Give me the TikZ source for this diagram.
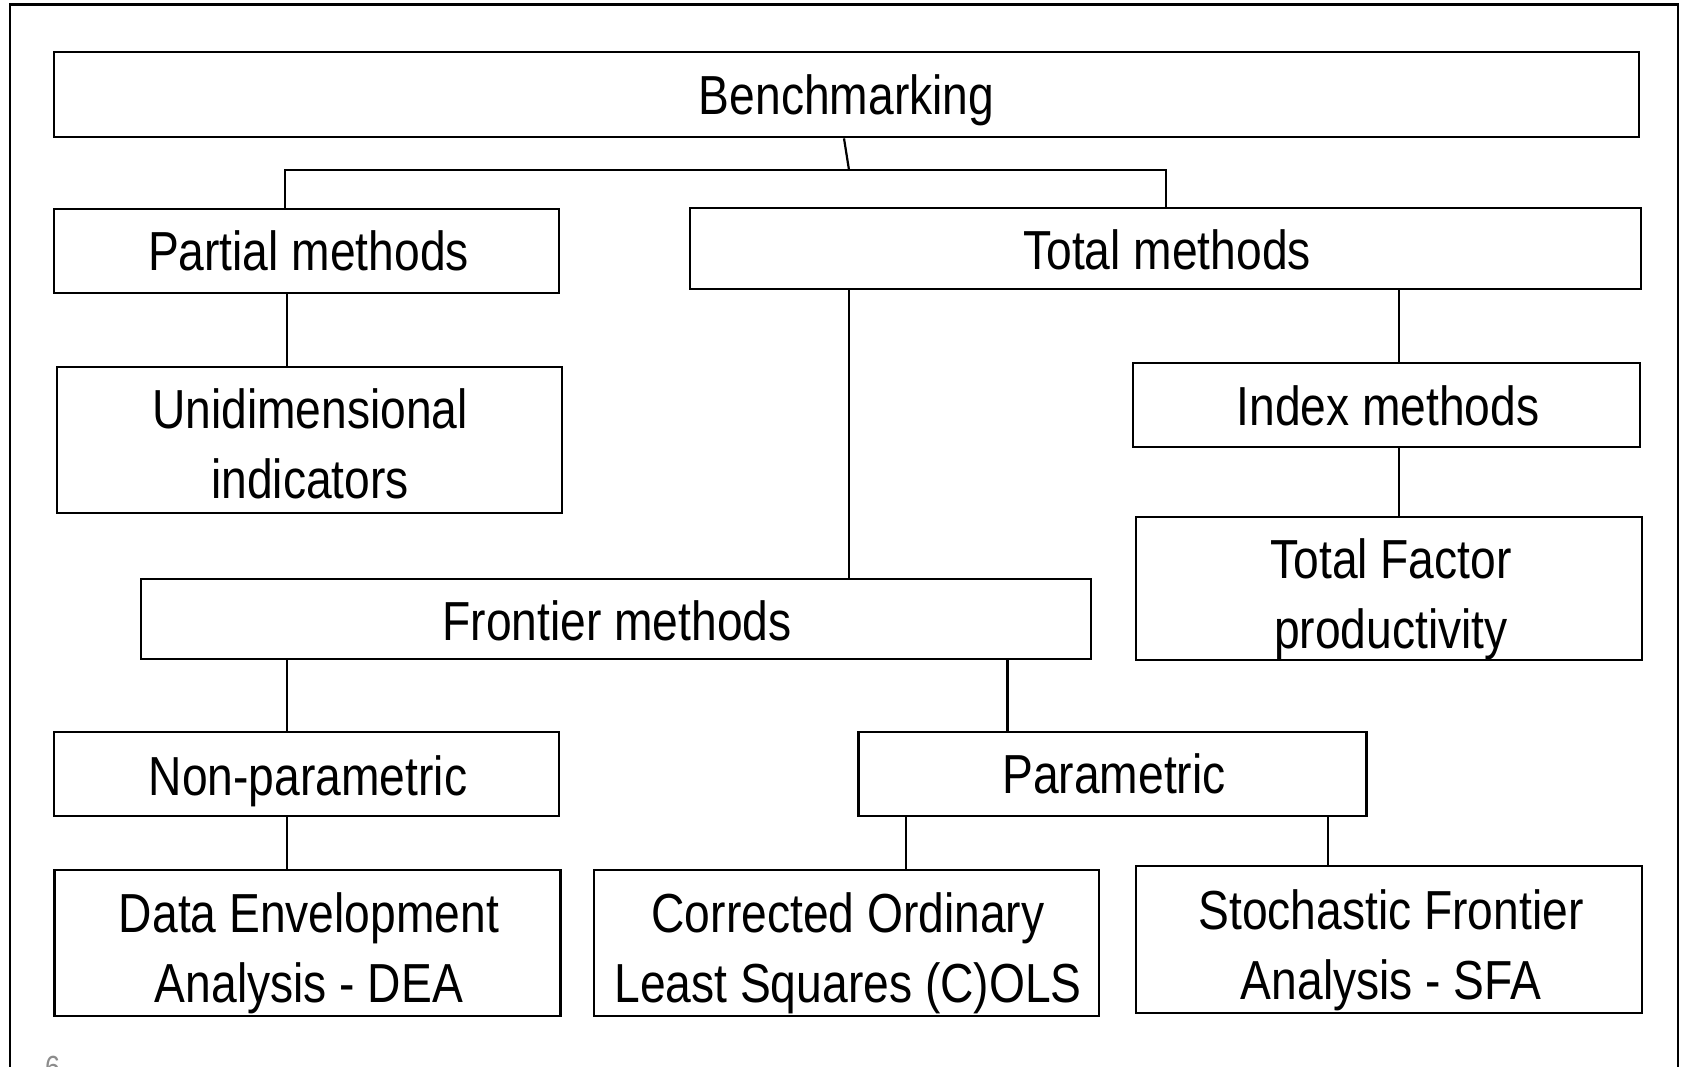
\documentclass[tikz,border=0pt]{standalone}
\usepackage{fontspec}
\setmainfont{Liberation Sans}[FakeStretch=0.84]
\usetikzlibrary{calc}
\begin{document}
\begin{tikzpicture}[x=1pt,y=-1pt,
  box/.style={draw, line width=2.8pt, inner sep=0pt, rectangle},
  conn/.style={line width=2.2pt},
  lbl/.style={font=\fontsize{55}{70}\selectfont, inner sep=0pt, anchor=base},
  frame/.style={line width=2.8pt}]
\useasboundingbox (0,0) rectangle (1686,1066);
\fill[white] (0,0) rectangle (1686,1066);
% outer frame
\coordinate (fbl) at (10,1075);
\coordinate (ftl) at (10,4.5);
\coordinate (ftr) at (1678,4.5);
\coordinate (fbr) at (1678,1075);
\draw[frame] (fbl) -- (ftl) -- (ftr) -- (fbr);
% boxes
\node[box, minimum width=1585pt, minimum height=85pt] (bench) at (846.5,94.5) {};
\node[box, minimum width=505pt, minimum height=84pt] (partial) at (306.5,251) {};
\node[box, minimum width=951pt, minimum height=81pt] (total) at (1165.5,248.5) {};
\node[box, minimum width=505pt, minimum height=146pt] (unidim) at (309.5,440) {};
\node[box, minimum width=507pt, minimum height=84pt] (index) at (1386.5,405) {};
\node[box, minimum width=506pt, minimum height=143pt] (tfp) at (1389,588.5) {};
\node[box, minimum width=950pt, minimum height=80pt] (frontier) at (616,619) {};
\node[box, minimum width=505pt, minimum height=84pt] (nonpar) at (306.5,774) {};
\node[box, minimum width=508pt, minimum height=84pt] (par) at (1112.5,774) {};
\node[box, minimum width=506pt, minimum height=146pt] (dea) at (307.5,943) {};
\node[box, minimum width=505pt, minimum height=146pt] (cols) at (846.5,943) {};
\node[box, minimum width=506pt, minimum height=147pt] (sfa) at (1389,939.5) {};
% texts
\node[lbl] (benchT) at (846.5,114) {Benchmarking};
\node[lbl] (partialT) at (308.5,270) {Partial methods};
\node[lbl] (totalT) at (1167,269) {Total methods};
\node[lbl] (unidimA) at (310,428.5) {Unidimensional};
\node[lbl] (unidimB) at (310,498.5) {indicators};
\node[lbl] (indexT) at (1388,425) {Index methods};
\node[lbl] (tfpA) at (1391,578) {Total Factor};
\node[lbl] (tfpB) at (1391,648) {productivity};
\node[lbl] (frontierT) at (617,640) {Frontier methods};
\node[lbl] (nonparT) at (308,795) {Non-parametric};
\node[lbl] (parT) at (1114,793) {Parametric};
\node[lbl] (deaA) at (309,932.5) {Data Envelopment};
\node[lbl] (deaB) at (309,1002.5) {Analysis - DEA};
\node[lbl] (colsA) at (848,932) {Corrected Ordinary};
\node[lbl] (colsB) at (848,1002.5) {Least Squares (C)OLS};
\node[lbl] (sfaA) at (1391,929) {Stochastic Frontier};
\node[lbl] (sfaB) at (1391,999.5) {Analysis - SFA};
% page number
\node[font=\fontsize{32}{36}\selectfont, text=black!45, inner sep=0pt, anchor=base west] (pgnum) at (45,1078) {6};
% connectors
\coordinate (jm) at (849,170);
\coordinate (jl) at (285,170);
\coordinate (jr) at (1166,170);
\draw[conn] ($(bench.south)+(-2.5,0)$) -- (jm);
\draw[conn] (jl |- partial.north) -- (jl) -- (jr) -- (jr |- total.north);
\coordinate (xp) at (287,0);
\draw[conn] (xp |- partial.south) -- (xp |- unidim.north);
\draw[conn] (xp |- frontier.south) -- (xp |- nonpar.north);
\draw[conn] (xp |- nonpar.south) -- (xp |- dea.north);
\coordinate (xf) at (849,0);
\draw[conn] (xf |- total.south) -- (xf |- frontier.north);
\coordinate (xi) at (1399,0);
\draw[conn] (xi |- total.south) -- (xi |- index.north);
\draw[conn] (xi |- index.south) -- (xi |- tfp.north);
\coordinate (xq) at (1007.5,0);
\draw[conn] (xq |- frontier.south) -- (xq |- par.north);
\coordinate (xc) at (906,0);
\draw[conn] (xc |- par.south) -- (xc |- cols.north);
\coordinate (xs) at (1328,0);
\draw[conn] (xs |- par.south) -- (xs |- sfa.north);
\end{tikzpicture}
\end{document}
